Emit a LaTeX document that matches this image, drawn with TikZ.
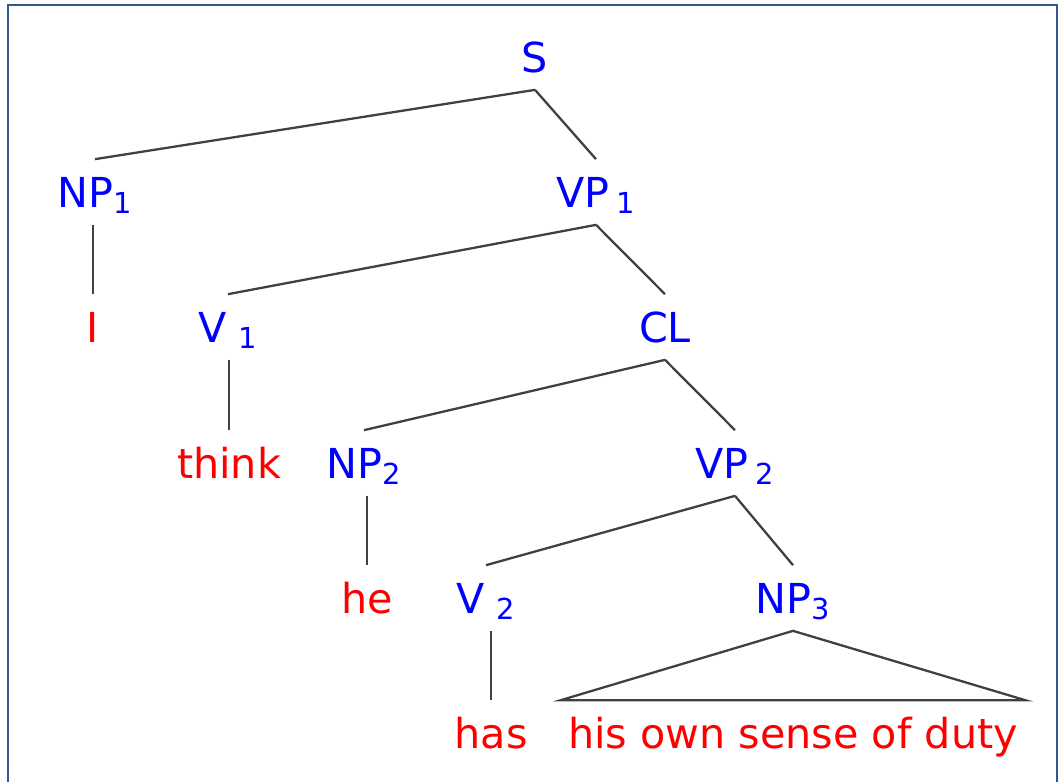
\documentclass[tikz,border=0pt]{standalone}
\usepackage{fontspec}
\setmainfont{DejaVu Sans}
\usepackage{xcolor}
\usetikzlibrary{positioning}
\definecolor{catblue}{RGB}{0,0,255}
\definecolor{wordred}{RGB}{255,0,0}
\definecolor{branchgray}{RGB}{64,64,64}
\definecolor{frameblue}{RGB}{50,88,140}

\begin{document}
\begin{tikzpicture}[x=0.02cm, y=-0.02cm,
  every node/.style={font=\fontsize{23.5}{28}\selectfont, anchor=base, inner xsep=0pt, inner ysep=0.35cm, text height=0.6cm, text depth=0pt},
  cat/.style={text=catblue},
  word/.style={text=wordred},
  branch/.style={draw=branchgray, line width=1.3pt}]
\useasboundingbox (0,0) rectangle (1058,782);
\draw[frameblue, line width=1.4pt] (1057,782) -- (1057,5) -- (8,5) -- (8,782);
% categories
\node[cat] (s) at (535,72) {S};
\node[cat] (np1) at (95,207) {NP\textsubscript{1}};
\node[cat] (vp1) at (596,207) {VP\,\textsubscript{1}};
\node[cat] (v1) at (228,342) {V\;\textsubscript{1}};
\node[cat] (cl) at (665,342) {CL};
\node[cat] (np2) at (364,478) {NP\textsubscript{2}};
\node[cat] (vp2) at (735,478) {VP\,\textsubscript{2}};
\node[cat] (v2) at (486,613) {V\;\textsubscript{2}};
\node[cat] (np3) at (793,613) {NP\textsubscript{3}};
% words
\node[word] (i) at (93,342) {I};
\node[word] (think) at (229,478) {think};
\node[word] (he) at (367,613) {he};
\node[word] (has) at (491,748) {has};
\node[word, inner xsep=4pt] (duty) at (793,748) {his own sense of duty};
% branches
\draw[branch] (s.south) -- (np1.north);
\draw[branch] (s.south) -- (vp1.north);
\draw[branch] (i.north |- np1.south) -- (i.north);
\draw[branch] (vp1.south) -- (v1.north);
\draw[branch] (vp1.south) -- (cl.north);
\draw[branch] (think.north |- v1.south) -- (think.north);
\draw[branch] (cl.south) -- (np2.north);
\draw[branch] (cl.south) -- (vp2.north);
\draw[branch] (he.north |- np2.south) -- (he.north);
\draw[branch] (vp2.south) -- (v2.north);
\draw[branch] (vp2.south) -- (np3.north);
\draw[branch] (has.north |- v2.south) -- (has.north);
\draw[branch] (np3.south) -- (duty.north east) -- (duty.north west) -- cycle;
\end{tikzpicture}
\end{document}
